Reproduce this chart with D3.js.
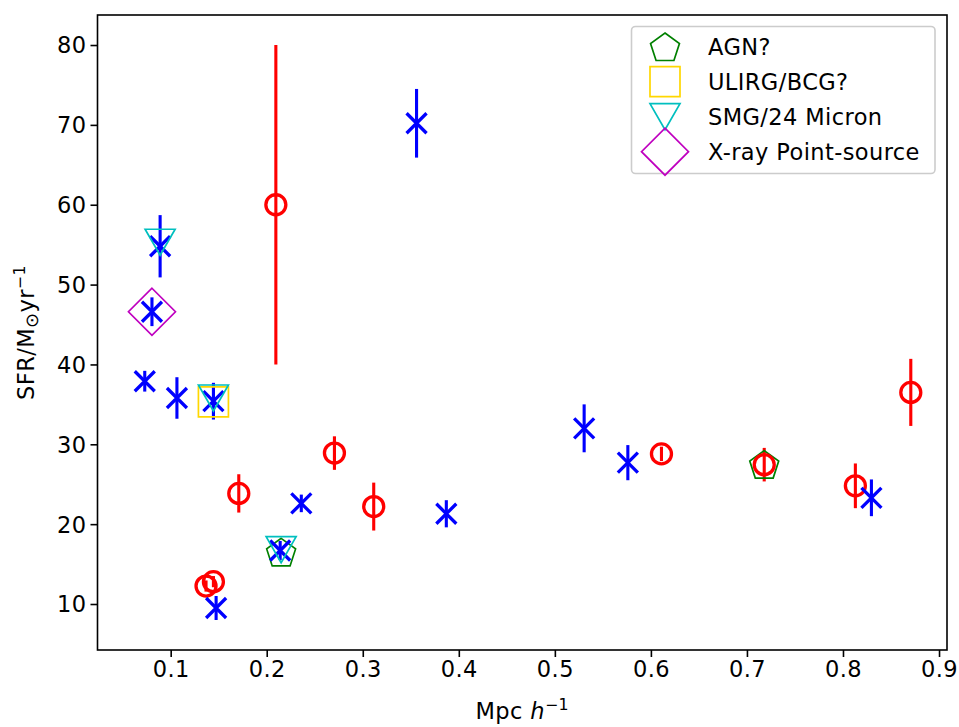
<!DOCTYPE html>
<html><head><meta charset="utf-8">
<script src="https://cdn.jsdelivr.net/npm/d3@7/dist/d3.min.js"></script>
<style>body{margin:0;background:#fff}svg{display:block}text{font-family:"DejaVu Sans",sans-serif;letter-spacing:0.4px}</style>
</head><body>
<svg id="c" width="959" height="727"></svg>
<script>
// Blue sample (x markers with error bars)
const blueX   = [0.073, 0.089, 0.0805, 0.1065, 0.1445, 0.1473, 0.214, 0.236, 0.356, 0.387, 0.5305, 0.576, 0.8296];
const blueY   = [37.9, 54.8, 46.6, 35.8, 35.4, 9.5, 16.7, 22.6, 70.2, 21.3, 32.0, 27.7, 23.3];
const blueErr = [1.3, 3.9, 1.8, 2.6, 2.3, 1.5, 1.2, 1.1, 4.3, 1.7, 3.0, 2.2, 2.3];
// Red sample (circles with error bars)
const redX   = [0.2095, 0.1368, 0.1445, 0.1709, 0.2705, 0.3114, 0.611, 0.718, 0.8129, 0.8706];
const redY   = [60.0, 12.25, 12.8, 23.85, 28.9, 22.2, 28.8, 27.45, 24.8, 36.5];
const redErr = [20.0, 0.7, 0.7, 2.4, 2.1, 3.0, 0.9, 2.1, 2.8, 4.2];
// Flags
const agnX = [0.215, 0.718], agnY = [16.5, 27.5];
const ulirgX = [0.1445], ulirgY = [35.3];
const smgX = [0.089, 0.1445, 0.215], smgY = [55.3, 35.8, 16.8];
const xrayX = [0.0805], xrayY = [46.6];
const legendLabels = ["AGN?", "ULIRG/BCG?", "SMG/24 Micron", "X-ray Point-source"];
const xTicks = [0.1,0.2,0.3,0.4,0.5,0.6,0.7,0.8,0.9];
const yTicks = [10,20,30,40,50,60,70,80];

const svg = d3.select("#c");
const L=97.5, R=947, T=15, B=650;
const x = d3.scaleLinear().domain([0.0238, 0.9083]).range([L, R]);
const y = d3.scaleLinear().domain([4.24, 83.76]).range([B, T]);
const FS = 22.5;

// axes
const xa = svg.append("g").attr("transform",`translate(0,${B})`)
  .call(d3.axisBottom(x).tickValues(xTicks).tickFormat(d3.format(".1f")).tickSize(7).tickSizeOuter(0));
const ya = svg.append("g").attr("transform",`translate(${L},0)`)
  .call(d3.axisLeft(y).tickValues(yTicks).tickFormat(d3.format("d")).tickSize(7).tickSizeOuter(0));
[xa,ya].forEach(a=>{
  a.select(".domain").remove();
  a.selectAll(".tick line").attr("stroke","#000").attr("stroke-width",1.6);
  a.selectAll(".tick text").attr("font-size",FS).attr("fill","#000").attr("font-family","DejaVu Sans");
});
xa.selectAll(".tick text").attr("dy","0.71em").attr("y",11);
ya.selectAll(".tick text").attr("x",-11).attr("dy","0.35em");

const plot = svg.append("g");

// error bars
plot.selectAll(".be").data(blueX).join("line")
  .attr("x1",(d)=>x(d)).attr("x2",(d)=>x(d))
  .attr("y1",(d,i)=>y(blueY[i]-blueErr[i])).attr("y2",(d,i)=>y(blueY[i]+blueErr[i]))
  .attr("stroke","#0000ff").attr("stroke-width",3.1);
plot.selectAll(".re").data(redX).join("line")
  .attr("x1",(d)=>x(d)).attr("x2",(d)=>x(d))
  .attr("y1",(d,i)=>y(redY[i]-redErr[i])).attr("y2",(d,i)=>y(redY[i]+redErr[i]))
  .attr("stroke","#ff0000").attr("stroke-width",3.1);

// marker shapes
function pentagon(r){const p=[];for(let k=0;k<5;k++){const a=-Math.PI/2+k*2*Math.PI/5;p.push([r*Math.cos(a),r*Math.sin(a)+r*0.1]);}return "M"+p.map(q=>q.join(",")).join("L")+"Z";}
const shapes = {
  agn: pentagon(15.2),
  ulirg: "M-15,-15L15,-15L15,15L-15,15Z",
  smg: "M-15,-13L15,-13L0,13Z",
  xray: "M0,-23.5L23.5,0L0,23.5L-23.5,0Z"
};
const colors = {agn:"#008000", ulirg:"#ffd700", smg:"#00bfbf", xray:"#bf00bf"};

function drawFlag(xs, ys, key){
  plot.selectAll(".f"+key).data(xs).join("path")
    .attr("transform",(d,i)=>`translate(${x(d)},${y(ys[i])})`)
    .attr("d",shapes[key]).attr("fill","none")
    .attr("stroke",colors[key]).attr("stroke-width",1.7);
}
drawFlag(xrayX, xrayY, "xray");
drawFlag(ulirgX, ulirgY, "ulirg");
drawFlag(agnX, agnY, "agn");

// red circles
plot.selectAll(".rc").data(redX).join("circle")
  .attr("cx",(d)=>x(d)).attr("cy",(d,i)=>y(redY[i])).attr("r",10)
  .attr("fill","none").attr("stroke","#ff0000").attr("stroke-width",3.3);

// blue x
const xs = 10;
plot.selectAll(".bx").data(blueX).join("path")
  .attr("transform",(d,i)=>`translate(${x(d)},${y(blueY[i])})`)
  .attr("d",`M${-xs},${-xs}L${xs},${xs}M${-xs},${xs}L${xs},${-xs}`)
  .attr("stroke","#0000ff").attr("stroke-width",3.3).attr("fill","none");

drawFlag(smgX, smgY, "smg");

// frame
svg.append("rect").attr("x",L).attr("y",T).attr("width",R-L).attr("height",B-T)
  .attr("fill","none").attr("stroke","#000").attr("stroke-width",1.6);

// legend
const lg = svg.append("g");
lg.append("rect").attr("x",631.5).attr("y",26.5).attr("width",303.5).attr("height",147)
  .attr("rx",4).attr("fill","#fff").attr("fill-opacity",0.8).attr("stroke","#cccccc").attr("stroke-width",1.6);
const keys = ["agn","ulirg","smg","xray"];
keys.forEach((k,i)=>{
  const cy = 46.7 + i*35;
  lg.append("path").attr("transform",`translate(665,${cy})`).attr("d",shapes[k])
    .attr("fill","none").attr("stroke",colors[k]).attr("stroke-width",1.7);
  lg.append("text").attr("x",708).attr("y",cy).attr("dy","0.35em")
    .attr("font-size",FS).attr("fill","#000").text(legendLabels[i]);
});

// axis labels
const xl = svg.append("text").attr("x",(L+R)/2).attr("y",719).attr("text-anchor","middle")
  .attr("font-size",FS).attr("fill","#000");
xl.append("tspan").text("Mpc ");
xl.append("tspan").attr("font-style","italic").text("h");
xl.append("tspan").attr("font-size",FS*0.7).attr("dy",-9).text("\u22121");

const yl = svg.append("text").attr("transform",`translate(34,${(T+B)/2}) rotate(-90)`)
  .attr("text-anchor","middle").attr("font-size",FS).attr("fill","#000");
yl.append("tspan").text("SFR/M");
yl.append("tspan").attr("font-size",FS*0.8).attr("dy",4).text("\u2299");
yl.append("tspan").attr("dy",-4).text("yr");
yl.append("tspan").attr("font-size",FS*0.7).attr("dy",-9).text("\u22121");
</script>
</body></html>
